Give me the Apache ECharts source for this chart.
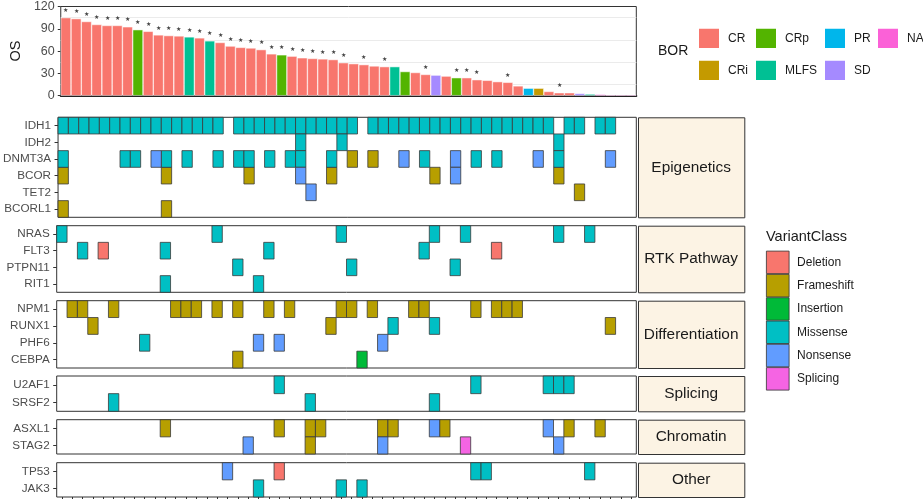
<!DOCTYPE html>
<html>
<head>
<meta charset="utf-8">
<script src="https://cdn.jsdelivr.net/npm/echarts@6/dist/echarts.min.js"></script>
<style>
  html, body { margin: 0; padding: 0; background: #fff; }
  #chart { width: 923px; height: 499px; }
</style>
</head>
<body>
<div id="chart"></div>
<script>
// overall survival per patient, sorted, with best overall response
const os = [105, 103.7, 99.8, 95.8, 94.5, 94.5, 92.7, 88.8, 86.6, 81.8, 80.9, 80.4, 79.1, 77.8,
  73.8, 71.6, 66.8, 65, 64.2, 62, 56.3, 55, 53.2, 51, 50.1, 49.5, 48.6, 44.4, 43.1, 41.8,
  40, 39.1, 39.1, 32.5, 31.2, 28.6, 27.7, 26.4, 24.2, 24.2, 21.5, 20.7, 18.9, 18, 13.2,
  10.1, 10.1, 5.7, 4, 4, 3, 2.2, 1.8, 1.3, 1.3, 1.3]
const bor = ['CR', 'CR', 'CR', 'CR', 'CR', 'CR', 'CR', 'CRp', 'CR', 'CR', 'CR', 'CR', 'MLFS', 'CR',
  'MLFS', 'CR', 'CR', 'CR', 'CR', 'CR', 'CR', 'CRp', 'CR', 'CR', 'CR', 'CR', 'CR', 'CR', 'CR',
  'CR', 'CR', 'CR', 'MLFS', 'CRp', 'CR', 'CR', 'SD', 'CR', 'CRp', 'CR', 'CR', 'CR', 'CR', 'CR',
  'CR', 'PR', 'CRi', 'CR', 'CR', 'CR', 'SD', 'MLFS', 'NA', 'NA', 'NA', 'NA']
// patients still alive (marked with a star)
const censored = [0, 1, 2, 3, 4, 5, 6, 7, 8, 9, 10, 11, 12, 13, 14, 15, 16, 17, 18, 19, 20, 21,
  22, 23, 24, 25, 26, 27, 29, 31, 35, 38, 39, 40, 43, 48]
const patients = os.map((v, i) => 'P' + (i + 1))

const borLevels = ['CR', 'CRi', 'CRp', 'MLFS', 'PR', 'SD', 'NA']
const borColors = ['#F8766D', '#C49A00', '#53B400', '#00C094', '#00B6EB', '#A58AFF', '#FB61D7']

const classes = ['Deletion', 'Frameshift', 'Insertion', 'Missense', 'Nonsense', 'Splicing']
const classColors = ['#F8766D', '#B79F00', '#00BA38', '#00BFC4', '#619CFF', '#F564E3']

const groups = ['Epigenetics', 'RTK Pathway', 'Differentiation', 'Splicing', 'Chromatin', 'Other']
const groupGenes = [
  ['IDH1', 'IDH2', 'DNMT3A', 'BCOR', 'TET2', 'BCORL1'],
  ['NRAS', 'FLT3', 'PTPN11', 'RIT1'],
  ['NPM1', 'RUNX1', 'PHF6', 'CEBPA'],
  ['U2AF1', 'SRSF2'],
  ['ASXL1', 'STAG2'],
  ['TP53', 'JAK3']
]

// [gene, variant class, patient columns (0-based)]
const variants = [
  ['IDH1', 'Missense', [0, 1, 2, 3, 4, 5, 6, 7, 8, 9, 10, 11, 12, 13, 14, 15, 17, 18, 19, 20, 21, 22,
    23, 24, 25, 26, 27, 28, 30, 31, 32, 33, 34, 35, 36, 37, 38, 39, 40, 41, 42, 43, 44, 45, 46, 47,
    49, 50, 52, 53]],
  ['IDH2', 'Missense', [23, 27, 48]],
  ['DNMT3A', 'Missense', [0, 6, 7, 10, 12, 15, 17, 18, 20, 22, 23, 26, 35, 40, 42, 48]],
  ['DNMT3A', 'Nonsense', [9, 33, 38, 46, 53]],
  ['DNMT3A', 'Frameshift', [28, 30]],
  ['BCOR', 'Frameshift', [0, 10, 18, 26, 36, 48]],
  ['BCOR', 'Nonsense', [23, 38]],
  ['TET2', 'Nonsense', [24]],
  ['TET2', 'Frameshift', [50]],
  ['BCORL1', 'Frameshift', [0, 10]],
  ['NRAS', 'Missense', [0, 15, 27, 36, 39, 48, 51]],
  ['FLT3', 'Missense', [2, 10, 20, 35]],
  ['FLT3', 'Deletion', [4, 42]],
  ['PTPN11', 'Missense', [17, 28, 38]],
  ['RIT1', 'Missense', [10, 19]],
  ['NPM1', 'Frameshift', [1, 2, 5, 11, 12, 13, 15, 17, 20, 22, 27, 28, 30, 34, 35, 40, 42, 43, 44]],
  ['RUNX1', 'Frameshift', [3, 26, 53]],
  ['RUNX1', 'Missense', [32, 36]],
  ['PHF6', 'Missense', [8]],
  ['PHF6', 'Nonsense', [19, 21, 31]],
  ['CEBPA', 'Frameshift', [17]],
  ['CEBPA', 'Insertion', [29]],
  ['U2AF1', 'Missense', [21, 40, 47, 48, 49]],
  ['SRSF2', 'Missense', [5, 24, 36]],
  ['ASXL1', 'Frameshift', [10, 21, 24, 25, 31, 32, 37, 49, 52]],
  ['ASXL1', 'Nonsense', [36, 47]],
  ['STAG2', 'Nonsense', [18, 31, 48]],
  ['STAG2', 'Frameshift', [24]],
  ['STAG2', 'Splicing', [39]],
  ['TP53', 'Nonsense', [16]],
  ['TP53', 'Deletion', [21]],
  ['TP53', 'Missense', [40, 41, 51]],
  ['JAK3', 'Missense', [19, 27, 29]]
]

// layout
const font = 'Liberation Sans, Arial, sans-serif'
const plotLeft = 56.7
const plotWidth = 579.6
const panelTop = [117.3, 225.7, 300.7, 376, 419.7, 462.7]
const panelH = [100, 66.6, 67.3, 35.3, 34.3, 34.3]
const stripLeft = 638
const stripWidth = 106.3

let chart = echarts.init(document.getElementById('chart'))

let grids = [{ left: plotLeft, top: 4.7, width: plotWidth, height: 91, show: true, borderColor: '#333', borderWidth: 1 }]
let xAxes = [{
  type: 'category', gridIndex: 0, data: patients, boundaryGap: true,
  axisLine: { show: true, lineStyle: { color: '#222', width: 2 } },
  axisTick: { show: false }, axisLabel: { show: false }
}]
let yAxes = [{
  type: 'value', gridIndex: 0, min: 0, max: 120, interval: 30,
  name: 'OS', nameLocation: 'middle', nameGap: 28,
  nameTextStyle: { fontSize: 14.5, color: '#1a1a1a', fontFamily: font },
  axisLine: { show: false },
  axisTick: { show: true, length: 3, lineStyle: { color: '#333' } },
  axisLabel: { fontSize: 12.5, color: '#4d4d4d', fontFamily: font, margin: 6 },
  splitLine: { show: false },
  minorTick: { show: false, splitNumber: 2 },
  minorSplitLine: { show: true, lineStyle: { color: '#ebebeb', width: 1 } }
}]

let series = []
borLevels.forEach((lvl, li) => {
  series.push({
    type: 'bar', name: lvl, xAxisIndex: 0, yAxisIndex: 0, stack: 'os',
    barCategoryGap: '0%',
    itemStyle: { color: borColors[li], borderColor: '#fff', borderWidth: 0.5 },
    label: { show: false, position: 'top', distance: 4, formatter: '\u2605', fontSize: 6, color: '#444' },
    data: os.map((v, i) => bor[i] === lvl ? { value: v, label: { show: censored.includes(i) } } : null)
  })
})

function renderTile(params, api) {
  let c = api.coord([api.value(0), api.value(1)])
  let s = api.size([1, 1])
  return {
    type: 'rect',
    shape: { x: c[0] - s[0] / 2, y: c[1] - s[1] / 2, width: s[0], height: s[1] },
    style: { fill: api.visual('color'), stroke: '#3a3a3a', lineWidth: 0.8 }
  }
}

let graphics = []
groups.forEach((g, p) => {
  let last = p === groups.length - 1
  grids.push({ left: plotLeft, top: panelTop[p], width: plotWidth, height: panelH[p], show: true, borderColor: '#333', borderWidth: 1 })
  xAxes.push({
    type: 'category', gridIndex: p + 1, data: patients, boundaryGap: true,
    axisLine: { show: false },
    axisTick: { show: last, alignWithLabel: true, interval: 0, length: 3, lineStyle: { color: '#333' } },
    axisLabel: { show: false }
  })
  yAxes.push({
    type: 'category', gridIndex: p + 1, data: groupGenes[p], inverse: true, boundaryGap: true,
    axisLine: { show: false },
    axisTick: { show: true, alignWithLabel: true, length: 3.5, lineStyle: { color: '#333' } },
    axisLabel: { fontSize: 11.7, color: '#4d4d4d', fontFamily: font, margin: 7 }
  })
  classes.forEach((cls, ci) => {
    let data = []
    variants.forEach(v => {
      let row = groupGenes[p].indexOf(v[0])
      if (row >= 0 && v[1] === cls) v[2].forEach(col => data.push([col, row]))
    })
    series.push({
      type: 'custom', name: cls, xAxisIndex: p + 1, yAxisIndex: p + 1,
      itemStyle: { color: classColors[ci] },
      renderItem: renderTile, data: data
    })
  })
  graphics.push({
    type: 'rect', left: stripLeft, top: panelTop[p],
    shape: { width: stripWidth, height: panelH[p] },
    style: { fill: '#FCF3E4', stroke: '#333', lineWidth: 1 }
  })
  graphics.push({
    type: 'text', x: stripLeft + stripWidth / 2, y: panelTop[p] + panelH[p] / 2,
    style: { text: g, align: 'center', verticalAlign: 'middle', font: '15.4px ' + font, fill: '#1a1a1a' }
  })
})

function borLegend(items, left) {
  return {
    data: items, left: left, top: 26.7, orient: 'vertical', padding: 0,
    icon: 'rect', itemWidth: 22, itemHeight: 21.3, itemGap: 8.7,
    selectedMode: false,
    textStyle: { fontSize: 12, color: '#1a1a1a', fontFamily: font, padding: [0, 0, 0, 3] }
  }
}

chart.setOption({
  animation: false,
  backgroundColor: '#fff',
  title: [
    { text: 'BOR', left: 658, top: 44, padding: 0, textStyle: { fontSize: 14, fontWeight: 'normal', color: '#1a1a1a', fontFamily: font } },
    { text: 'VariantClass', left: 766, top: 229, padding: 0, textStyle: { fontSize: 14.5, fontWeight: 'normal', color: '#1a1a1a', fontFamily: font } }
  ],
  legend: [
    borLegend(['CR', 'CRi'], 697),
    borLegend(['CRp', 'MLFS'], 754),
    borLegend(['PR', 'SD'], 823),
    borLegend(['NA'], 876),
    {
      data: classes, left: 766, top: 250.7, orient: 'vertical', padding: 0,
      icon: 'rect', itemWidth: 22.7, itemHeight: 22.5, itemGap: 0,
      selectedMode: false,
      itemStyle: { borderColor: '#333', borderWidth: 0.8 },
      textStyle: { fontSize: 12, color: '#1a1a1a', fontFamily: font, padding: [0, 0, 0, 3] }
    }
  ],
  grid: grids,
  xAxis: xAxes,
  yAxis: yAxes,
  series: series,
  graphic: graphics
})
</script>
</body>
</html>
